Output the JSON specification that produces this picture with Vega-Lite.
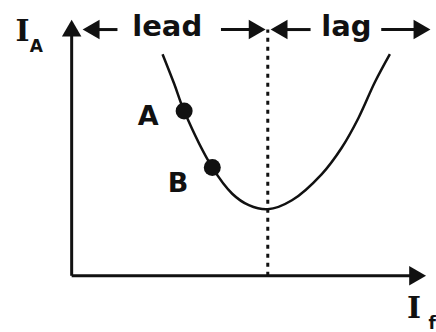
{
  "$schema": "https://vega.github.io/schema/vega-lite/v6.json",
  "width": 436,
  "height": 332,
  "autosize": {"type": "fit", "contains": "padding"},
  "padding": 0,
  "background": "white",
  "config": {"view": {"stroke": null}},
  "datasets": {
    "curve": [
      {"i": 0, "x": 2.572, "y": 8.929},
      {"i": 1, "x": 2.901, "y": 7.738},
      {"i": 2, "x": 3.183, "y": 6.639},
      {"i": 3, "x": 3.980, "y": 4.365},
      {"i": 4, "x": 4.544, "y": 3.306},
      {"i": 5, "x": 5.014, "y": 2.845},
      {"i": 6, "x": 5.549, "y": 2.679},
      {"i": 7, "x": 6.234, "y": 3.044},
      {"i": 8, "x": 7.079, "y": 4.099},
      {"i": 9, "x": 7.642, "y": 5.159},
      {"i": 10, "x": 8.113, "y": 6.349},
      {"i": 11, "x": 8.583, "y": 7.806},
      {"i": 12, "x": 9.006, "y": 8.929}
    ],
    "segments": [
      {"kind": "axis", "x": 0, "y": 0, "x2": 0, "y2": 9.84},
      {"kind": "axis", "x": 0, "y": 0, "x2": 9.66, "y2": 0},
      {"kind": "arrow", "x": 0.6, "y": 9.92, "x2": 1.296, "y2": 9.92},
      {"kind": "arrow", "x": 4.225, "y": 9.92, "x2": 5.15, "y2": 9.92},
      {"kind": "arrow", "x": 5.9, "y": 9.92, "x2": 6.761, "y2": 9.92},
      {"kind": "arrow", "x": 8.761, "y": 9.92, "x2": 9.8, "y2": 9.92}
    ],
    "divider": [{"x": 5.55, "y": 0, "y2": 9.92}],
    "heads": [
      {"x": 0, "y": 9.98, "dir": "triangle-up"},
      {"x": 9.79, "y": 0, "dir": "triangle-right"},
      {"x": 0.55, "y": 9.92, "dir": "triangle-left"},
      {"x": 5.25, "y": 9.92, "dir": "triangle-right"},
      {"x": 5.87, "y": 9.92, "dir": "triangle-left"},
      {"x": 9.915, "y": 9.92, "dir": "triangle-right"}
    ],
    "dots": [
      {"name": "A", "x": 3.183, "y": 6.639},
      {"name": "B", "x": 3.980, "y": 4.365}
    ],
    "labels": [
      {"t": "lead", "x": 2.704, "y": 9.643, "size": 29},
      {"t": "lag", "x": 7.775, "y": 9.643, "size": 29},
      {"t": "A", "x": 2.169, "y": 6.071, "size": 27},
      {"t": "B", "x": 3.014, "y": 3.373, "size": 27}
    ],
    "symbols": [
      {"t": "I", "x": -1.394, "y": 9.444, "size": 30},
      {"t": "I", "x": 9.69, "y": -1.706, "size": 30}
    ],
    "subs": [
      {"t": "A", "x": -1.0, "y": 9.008, "size": 17},
      {"t": "f", "x": 10.2, "y": -2.14, "size": 17}
    ]
  },
  "encoding": {
    "x": {"field": "x", "type": "quantitative", "axis": null, "scale": {"domain": [-2.028, 10.254], "nice": false, "zero": false}},
    "y": {"field": "y", "type": "quantitative", "axis": null, "scale": {"domain": [-2.063, 11.111], "nice": false, "zero": false}}
  },
  "layer": [
    {
      "data": {"name": "segments"},
      "mark": {"type": "rule", "color": "#111", "strokeWidth": 3, "clip": false},
      "encoding": {
        "x2": {"field": "x2"},
        "y2": {"field": "y2"}
      }
    },
    {
      "data": {"name": "divider"},
      "mark": {"type": "rule", "color": "#111", "strokeWidth": 3, "strokeDash": [4, 5]},
      "encoding": {"y2": {"field": "y2"}}
    },
    {
      "data": {"name": "curve"},
      "mark": {"type": "line", "color": "#111", "strokeWidth": 2.5, "interpolate": "catmull-rom"},
      "encoding": {"order": {"field": "i", "type": "quantitative"}}
    },
    {
      "data": {"name": "heads"},
      "mark": {"type": "point", "filled": true, "color": "#111", "size": 380, "opacity": 1, "clip": false},
      "encoding": {"shape": {"field": "dir", "type": "nominal", "scale": null}}
    },
    {
      "data": {"name": "dots"},
      "mark": {"type": "circle", "color": "#111", "size": 289, "opacity": 1}
    },
    {
      "data": {"name": "labels"},
      "mark": {"type": "text", "font": "DejaVu Sans", "fontWeight": "bold", "color": "#111", "baseline": "alphabetic", "align": "center"},
      "encoding": {"text": {"field": "t"}, "size": {"field": "size", "type": "quantitative", "scale": null}}
    },
    {
      "data": {"name": "symbols"},
      "mark": {"type": "text", "font": "DejaVu Serif", "fontWeight": "bold", "color": "#111", "baseline": "alphabetic", "align": "center"},
      "encoding": {"text": {"field": "t"}, "size": {"field": "size", "type": "quantitative", "scale": null}}
    },
    {
      "data": {"name": "subs"},
      "mark": {"type": "text", "font": "DejaVu Sans", "fontWeight": "bold", "color": "#111", "baseline": "alphabetic", "align": "center"},
      "encoding": {"text": {"field": "t"}, "size": {"field": "size", "type": "quantitative", "scale": null}}
    }
  ]
}
